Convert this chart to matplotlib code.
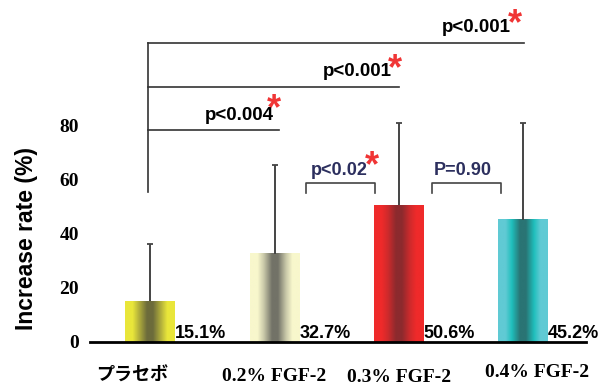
import numpy as np
import matplotlib
matplotlib.use("Agg")
import matplotlib.pyplot as plt
from matplotlib.colors import to_rgb

# data
categories = ["プラセボ", "0.2% FGF-2", "0.3% FGF-2", "0.4% FGF-2"]
values = [15.1, 32.7, 50.6, 45.2]
sd_upper = [21.2, 32.9, 30.5, 35.8]
value_labels = ["15.1%", "32.7%", "50.6%", "45.2%"]
yticks = [0, 20, 40, 60, 80]

# gradient colours per bar: edge, mid, centre
bar_colors = [
    ("#e9e63a", "#b4b13c", "#6c6b3b"),
    ("#f8f7cc", "#c9c8a9", "#727267"),
    ("#ef2a2a", "#cf2a2c", "#8c2a2e"),
    ("#60cad4", "#1fbfbc", "#2a7474"),
]

sans = "Liberation Sans"
serif = "Liberation Serif"
cjk = "Noto Sans CJK JP"
navy = "#2c2f5e"
red = "#f03535"

fig = plt.figure(figsize=(6.06, 3.89), dpi=100)
ax = fig.add_axes([90 / 606, 47 / 389, 496 / 606, 324 / 389])

x = np.arange(len(values))
w = 0.4

# gradient bars
t = np.linspace(0, 1, 120)
d = np.abs(t - 0.5) * 2  # 0 at centre, 1 at edges
for xi, v, (ce, cm, cc) in zip(x, values, bar_colors):
    stops = [0.0, 0.12, 0.45, 0.7, 1.0]
    cols = np.array([to_rgb(cc), to_rgb(cc), to_rgb(cm), to_rgb(ce), to_rgb(ce)])
    img = np.stack([np.interp(d, stops, cols[:, k]) for k in range(3)], axis=-1)
    ax.imshow(img[None, :, :], extent=[xi - w / 2, xi + w / 2, 0, v],
              aspect="auto", interpolation="bilinear", zorder=2)

eb = ax.errorbar(x, values, yerr=[np.zeros(len(values)), sd_upper], fmt="none",
                 ecolor="#444444", elinewidth=1.4, capsize=2.5, capthick=1.3, zorder=3)
eb[1][0].set_visible(False)  # no cap at the bar top

# value labels next to bars
for xi, lab in zip(x, value_labels):
    ax.text(xi + w / 2, 1.4, lab, ha="left", va="baseline", fontsize=13,
            fontweight="bold", family=sans, zorder=4)

# long comparison lines from placebo
lc = "#333333"
ax.plot([-0.022, -0.022], [55.5, 110.9], color=lc, lw=1.2)
ax.plot([-0.022, 1.04], [78.4, 78.4], color=lc, lw=1.2)
ax.plot([-0.022, 2.0], [94.6, 94.6], color=lc, lw=1.2)
ax.plot([-0.022, 3.01], [110.9, 110.9], color=lc, lw=1.2)

ax.text(0.714, 82.2, "p<0.004", ha="center", va="baseline", fontsize=13.5,
        fontweight="bold", family=sans)
ax.text(1.669, 98.5, "p<0.001", ha="center", va="baseline", fontsize=13.5,
        fontweight="bold", family=sans)
ax.text(2.628, 114.7, "p<0.001", ha="center", va="baseline", fontsize=13.5,
        fontweight="bold", family=sans)

# short brackets
for x0, x1 in [(1.256, 1.81), (2.27, 2.826)]:
    ax.plot([x0, x0, x1, x1], [55.2, 58.9, 58.9, 55.2], color="#444444", lw=1.2)
ax.text(1.519, 61.9, "p<0.02", ha="center", va="baseline", fontsize=13,
        fontweight="bold", family=sans, color=navy)
ax.text(2.515, 61.9, "P=0.90", ha="center", va="baseline", fontsize=13,
        fontweight="bold", family=sans, color=navy)

# red asterisks
for ax_x, ax_y in [(0.996, 89.6), (1.97, 104.4), (2.936, 121.1), (1.785, 68.4)]:
    ax.text(ax_x, ax_y - 3.6, "*", ha="center", va="center", fontsize=26,
            fontweight="bold", family=sans, color=red)

# category labels
label_pos = [(-0.15, -0.102), (1.0, -0.108), (2.006, -0.111), (3.11, -0.093)]
for (lx, ly), cat in zip(label_pos, categories):
    fam = cjk if cat == "プラセボ" else serif
    ax.text(lx, ly, cat, transform=ax.get_xaxis_transform(), ha="center",
            va="center", fontsize=13 if fam == cjk else 14, fontweight="bold",
            family=fam)

ax.set_xlim(-0.4855, 3.508)
ax.set_ylim(0, 120)
ax.set_xticks([])
ax.set_yticks(yticks)
ax.set_yticklabels([str(v) for v in yticks], family=serif, fontweight="bold",
                   fontsize=14)
ax.tick_params(axis="y", length=0, pad=8)
for s in ["top", "right", "left"]:
    ax.spines[s].set_visible(False)
ax.spines["bottom"].set_linewidth(2)
ax.spines["bottom"].set_color("black")

fig.text(27 / 606, 1 - 239 / 389, "Increase rate (%)", rotation=90, ha="center",
         va="center", fontsize=16.5, fontweight="bold", family=sans)

fig.savefig("out.png", dpi=100)
